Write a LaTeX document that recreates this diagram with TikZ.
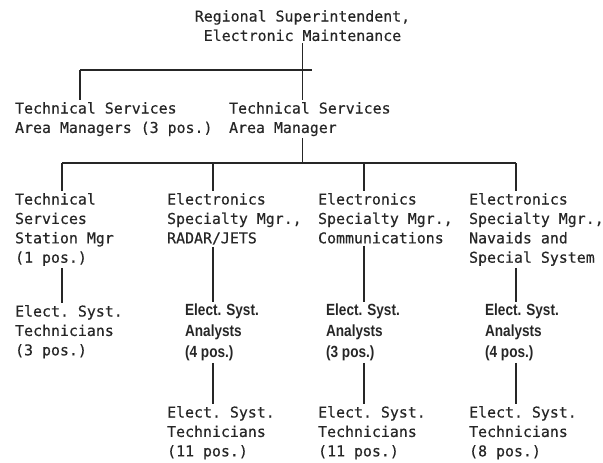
\documentclass[tikz,border=0pt]{standalone}
\usepackage{fontspec}
\setmonofont[FakeBold=0.4]{DejaVu Sans Mono}
\newfontfamily\anlfont[FakeStretch=0.84]{Liberation Sans}

\begin{document}
\begin{tikzpicture}[x=0.025cm,y=-0.025cm,line width=0.9pt,color=black!85,
	mono_node/.style={font=\ttfamily\fontsize{10.6}{13.8}\selectfont,align=left,inner sep=0pt,outer sep=1.5pt,anchor=north west},
	anl_node/.style={font=\anlfont\bfseries\fontsize{11.5}{14.8}\selectfont,align=left,inner sep=0pt,outer sep=1.5pt,anchor=north west}]

		\useasboundingbox (0,0) rectangle (603,462);

		\node[mono_node,align=center,anchor=north] (reg) at (302.5,8) {Regional Superintendent,\\Electronic Maintenance};
		\node[mono_node] (areas) at (13,100) {Technical Services\\Area Managers (3 pos.)};
		\node[mono_node] (area) at (227,100) {Technical Services\\Area Manager};

		\node[mono_node] (stn) at (13,191) {Technical\\Services\\Station Mgr\\(1 pos.)};
		\node[mono_node] (radar) at (165,191) {Electronics\\Specialty Mgr.,\\RADAR/JETS};
		\node[mono_node] (comm) at (316,191) {Electronics\\Specialty Mgr.,\\Communications};
		\node[mono_node] (nav) at (467,191) {Electronics\\Specialty Mgr.,\\Navaids and\\Special System};

		\node[mono_node] (tech1) at (13,303) {Elect. Syst.\\Technicians\\(3 pos.)};
		\node[anl_node] (anl1) at (183,302) {Elect. Syst.\\Analysts\\(4 pos.)};
		\node[anl_node] (anl2) at (324,302) {Elect. Syst.\\Analysts\\(3 pos.)};
		\node[anl_node] (anl3) at (483,302) {Elect. Syst.\\Analysts\\(4 pos.)};

		\node[mono_node] (tech2) at (165,404) {Elect. Syst.\\Technicians\\(11 pos.)};
		\node[mono_node] (tech3) at (316,404) {Elect. Syst.\\Technicians\\(11 pos.)};
		\node[mono_node] (tech4) at (467,404) {Elect. Syst.\\Technicians\\(8 pos.)};

		% bars
		\coordinate (bar1_l) at (80,70);
		\coordinate (bar1_r) at (312,70);
		\coordinate (bar2_l) at (62,163);
		\coordinate (bar2_r) at (516,163);
		\coordinate (drop_radar) at (213,163);
		\coordinate (drop_comm) at (364,163);

		\draw (reg.south) -- (reg.south |- area.north);
		\draw (bar1_l) -- (bar1_r);
		\draw (bar1_l) -- (bar1_l |- areas.north);
		\draw (reg.south |- area.south) -- (reg.south |- bar2_l);
		\draw (bar2_l) -- (bar2_r);

		\draw (bar2_l) -- (bar2_l |- stn.north);
		\draw (drop_radar) -- (drop_radar |- radar.north);
		\draw (drop_comm) -- (drop_comm |- comm.north);
		\draw (bar2_r) -- (bar2_r |- nav.north);

		\draw (bar2_l |- stn.south) -- (bar2_l |- tech1.north);
		\draw (drop_radar |- radar.south) -- (drop_radar |- anl1.north);
		\draw (drop_comm |- comm.south) -- (drop_comm |- anl2.north);
		\draw (bar2_r |- nav.south) -- (bar2_r |- anl3.north);

		\draw (drop_radar |- anl1.south) -- (drop_radar |- tech2.north);
		\draw (drop_comm |- anl2.south) -- (drop_comm |- tech3.north);
		\draw (bar2_r |- anl3.south) -- (bar2_r |- tech4.north);
		\end{tikzpicture}
\end{document}
